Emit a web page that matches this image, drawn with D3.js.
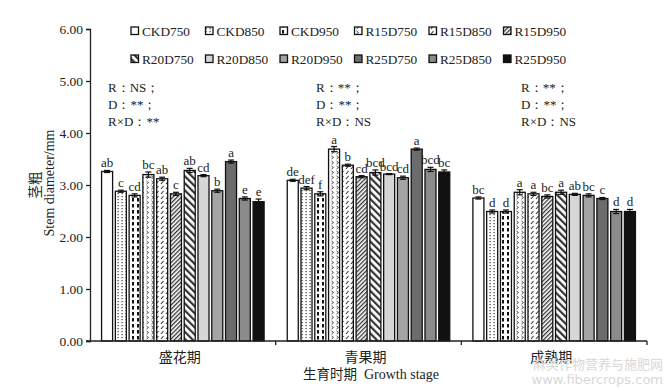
<!DOCTYPE html>
<html>
<head>
    <meta charset="utf-8">
    <title>Stem diameter</title>
    <script src="https://cdn.jsdelivr.net/npm/d3@7"></script>
    <style>
        body { margin: 0; background: #fff; }
        text { font-family: "Liberation Serif", "DejaVu Serif", serif; fill: #222; }
        .cjk { font-family: "Noto Sans CJK SC", sans-serif; }
    </style>
</head>
<body>
<div id="chart"></div>
<script>
    // growth stages and treatments
    var stages = ["盛花期", "青果期", "成熟期"];
    var treatments = ["CKD750", "CKD850", "CKD950", "R15D750", "R15D850", "R15D950",
                      "R20D750", "R20D850", "R20D950", "R25D750", "R25D850", "R25D950"];

    // stem diameter (mm) per stage, one value per treatment
    var meanFlower = [3.26, 2.88, 2.80, 3.20, 3.12, 2.83, 3.28, 3.18, 2.89, 3.45, 2.74, 2.68];
    var meanGreen  = [3.09, 2.94, 2.83, 3.69, 3.38, 3.16, 3.24, 3.21, 3.14, 3.69, 3.30, 3.25];
    var meanMature = [2.75, 2.49, 2.49, 2.86, 2.83, 2.78, 2.86, 2.82, 2.80, 2.74, 2.49, 2.49];

    var errFlower = [0.02, 0.02, 0.03, 0.05, 0.03, 0.03, 0.04, 0.02, 0.03, 0.03, 0.03, 0.05];
    var errGreen  = [0.02, 0.03, 0.04, 0.05, 0.02, 0.02, 0.05, 0.01, 0.03, 0.02, 0.04, 0.04];
    var errMature = [0.02, 0.03, 0.03, 0.05, 0.03, 0.03, 0.04, 0.02, 0.03, 0.02, 0.04, 0.04];

    // significance letters
    var letFlower = ["ab", "c", "cd", "bc", "ab", "c", "ab", "cd", "b", "a", "e", "e"];
    var letGreen  = ["de", "def", "f", "a", "b", "cd", "bcd", "bcd", "cd", "a", "bcd", "bc"];
    var letMature = ["bc", "d", "d", "a", "a", "bc", "a", "ab", "bc", "c", "d", "d"];

    // ANOVA notes per stage
    var anovaNotes = [
        ["R：NS；", "D：**；", "R×D：**"],
        ["R：**；", "D：**；", "R×D：NS"],
        ["R：**；", "D：**；", "R×D：NS"]
    ];

    var yTicks = [0, 1, 2, 3, 4, 5, 6];

    var means = [meanFlower, meanGreen, meanMature];
    var errs = [errFlower, errGreen, errMature];
    var lets = [letFlower, letGreen, letMature];

    var rows = [];
    stages.forEach(function (s, gi) {
        treatments.forEach(function (t, ti) {
            rows.push({ stage: s, trt: t, v: means[gi][ti], e: errs[gi][ti], l: lets[gi][ti] });
        });
    });

    var W = 669, H = 389;
    var svg = d3.select("#chart").append("svg").attr("width", W).attr("height", H);

    // fill patterns
    var defs = svg.append("defs");
    function pat(id, w, h, draw) {
        var p = defs.append("pattern").attr("id", id).attr("patternUnits", "userSpaceOnUse")
            .attr("width", w).attr("height", h);
        p.append("rect").attr("width", w).attr("height", h).attr("fill", "#fff");
        draw(p);
    }
    pat("pDots", 4, 3, function (p) {
        p.append("rect").attr("x", 1.5).attr("y", 1).attr("width", 1.2).attr("height", 1.2).attr("fill", "#333");
    });
    pat("pDash", 5, 6, function (p) {
        p.append("rect").attr("x", 2).attr("y", 0).attr("width", 2).attr("height", 3.5).attr("fill", "#111");
    });
    pat("pChev", 5, 5, function (p) {
        p.append("path").attr("d", "M1.5,1 L3.5,2.5 L1.5,4").attr("fill", "none").attr("stroke", "#333").attr("stroke-width", 0.9);
    });
    pat("pSlashDash", 5, 5, function (p) {
        p.append("path").attr("d", "M1,4 L3.5,1").attr("stroke", "#333").attr("stroke-width", 1.1);
    });
    defs.append("pattern").attr("id", "pFine").attr("patternUnits", "userSpaceOnUse")
        .attr("width", 3).attr("height", 3).attr("patternTransform", "rotate(45)")
        .call(function (p) {
            p.append("rect").attr("width", 3).attr("height", 3).attr("fill", "#fff");
            p.append("rect").attr("width", 1.3).attr("height", 3).attr("fill", "#333");
        });
    defs.append("pattern").attr("id", "pWide").attr("patternUnits", "userSpaceOnUse")
        .attr("width", 5).attr("height", 5).attr("patternTransform", "rotate(-45)")
        .call(function (p) {
            p.append("rect").attr("width", 5).attr("height", 5).attr("fill", "#fff");
            p.append("rect").attr("width", 2.2).attr("height", 5).attr("fill", "#333");
        });

    var fills = {
        CKD750: "#fff", CKD850: "url(#pDots)", CKD950: "url(#pDash)",
        R15D750: "url(#pChev)", R15D850: "url(#pSlashDash)", R15D950: "url(#pFine)",
        R20D750: "url(#pWide)", R20D850: "#d6d6d6", R20D950: "#a4a4a4",
        R25D750: "#6c6c6c", R25D850: "#8b8b8b", R25D950: "#111"
    };

    var plotLeft = 90, plotRight = 647, plotTop = 29, plotBottom = 341;

    var x0 = d3.scaleBand().domain(stages).range([plotLeft, plotRight]);
    var x1 = d3.scaleBand().domain(treatments).range([0, x0.bandwidth()])
        .paddingInner(0.2).paddingOuter(0.84);
    var y = d3.scaleLinear().domain([0, 6]).range([plotBottom, plotTop]);

    // bars
    var bars = svg.append("g");
    bars.selectAll("rect").data(rows).enter().append("rect")
        .attr("x", d => x0(d.stage) + x1(d.trt))
        .attr("y", d => y(d.v))
        .attr("width", x1.bandwidth())
        .attr("height", d => y(0) - y(d.v))
        .attr("fill", d => fills[d.trt])
        .attr("stroke", "#111").attr("stroke-width", 1.3);

    // error bars
    var eb = svg.append("g").attr("stroke", "#111").attr("stroke-width", 1.2);
    rows.forEach(function (d) {
        var cx = x0(d.stage) + x1(d.trt) + x1.bandwidth() / 2;
        eb.append("line").attr("x1", cx).attr("x2", cx).attr("y1", y(d.v - d.e)).attr("y2", y(d.v + d.e));
        eb.append("line").attr("x1", cx - 3).attr("x2", cx + 3).attr("y1", y(d.v + d.e)).attr("y2", y(d.v + d.e));
        eb.append("line").attr("x1", cx - 3).attr("x2", cx + 3).attr("y1", y(d.v - d.e)).attr("y2", y(d.v - d.e));
    });

    // letters
    svg.append("g").selectAll("text").data(rows).enter().append("text")
        .attr("x", d => x0(d.stage) + x1(d.trt) + x1.bandwidth() / 2)
        .attr("y", d => y(d.v + d.e) - 3)
        .attr("text-anchor", "middle")
        .style("font-size", "13px")
        .text(d => d.l);

    // y axis
    var yAxis = svg.append("g").attr("transform", "translate(" + plotLeft + ",0)")
        .call(d3.axisLeft(y).tickValues(yTicks).tickFormat(d3.format(".2f")).tickSize(4));
    yAxis.select(".domain").attr("stroke", "#222").attr("stroke-width", 1.3);
    yAxis.selectAll(".tick line").attr("stroke", "#222").attr("stroke-width", 1.3);
    yAxis.selectAll("text").style("font-size", "13.5px").attr("fill", "#222")
        .style("font-family", "'Liberation Serif', serif");

    // x axis
    var xAxis = svg.append("g").attr("transform", "translate(0," + plotBottom + ")");
    xAxis.append("line").attr("x1", plotLeft - 4).attr("x2", plotRight).attr("y1", 0).attr("y2", 0)
        .attr("stroke", "#222").attr("stroke-width", 1.3);
    xAxis.selectAll(".sep").data(stages).enter().append("line")
        .attr("x1", d => x0(d) + x0.bandwidth()).attr("x2", d => x0(d) + x0.bandwidth())
        .attr("y1", 0).attr("y2", 4).attr("stroke", "#222").attr("stroke-width", 1.3);
    xAxis.selectAll(".lab").data(stages).enter().append("text")
        .attr("class", "cjk")
        .attr("x", d => x0(d) + x0.bandwidth() / 2 - 3)
        .attr("y", 21)
        .attr("text-anchor", "middle")
        .style("font-size", "14px")
        .text(d => d);

    // axis titles
    var xt = svg.append("text").attr("x", 371).attr("y", 379).attr("text-anchor", "middle").style("font-size", "14px");
    xt.append("tspan").attr("class", "cjk").style("font-size", "13.5px").text("生育时期");
    xt.append("tspan").text("\u00a0\u00a0Growth stage");

    svg.append("text").attr("class", "cjk")
        .attr("transform", "translate(40,185) rotate(-90)")
        .attr("text-anchor", "middle").style("font-size", "13.5px").text("茎粗");
    svg.append("text")
        .attr("transform", "translate(54,183) rotate(-90)")
        .attr("text-anchor", "middle").style("font-size", "14px").text("Stem diameter/mm");

    // ANOVA notes
    var noteX = [108, 316, 521];
    anovaNotes.forEach(function (lines, gi) {
        lines.forEach(function (s, li) {
            svg.append("text").attr("x", noteX[gi]).attr("y", 92 + li * 17)
                .style("font-size", "13px").text(s);
        });
    });

    // legend
    var leg = svg.append("g");
    treatments.forEach(function (t, i) {
        var col = i % 6, row = Math.floor(i / 6);
        var lx = 131 + col * 74.5, ly = 31 + row * 28;
        leg.append("rect").attr("x", lx).attr("y", ly - 4).attr("width", 7.5).attr("height", 7.5)
            .attr("fill", fills[t]).attr("stroke", "#111").attr("stroke-width", 1.3);
        leg.append("text").attr("x", lx + 11).attr("y", ly + 4.5)
            .style("font-size", "13.3px").text(t);
    });

    // watermark
    svg.append("text").attr("class", "cjk").attr("x", 663).attr("y", 369).attr("text-anchor", "end")
        .style("font-size", "13px").style("fill", "#d8d8d8").text("麻类作物营养与施肥网");
    svg.append("text").attr("x", 663).attr("y", 384).attr("text-anchor", "end")
        .style("font-size", "13px").style("fill", "#d8d8d8").style("font-family", "'DejaVu Sans', sans-serif")
        .text("www.fibercrops.com");
</script>
</body>
</html>
